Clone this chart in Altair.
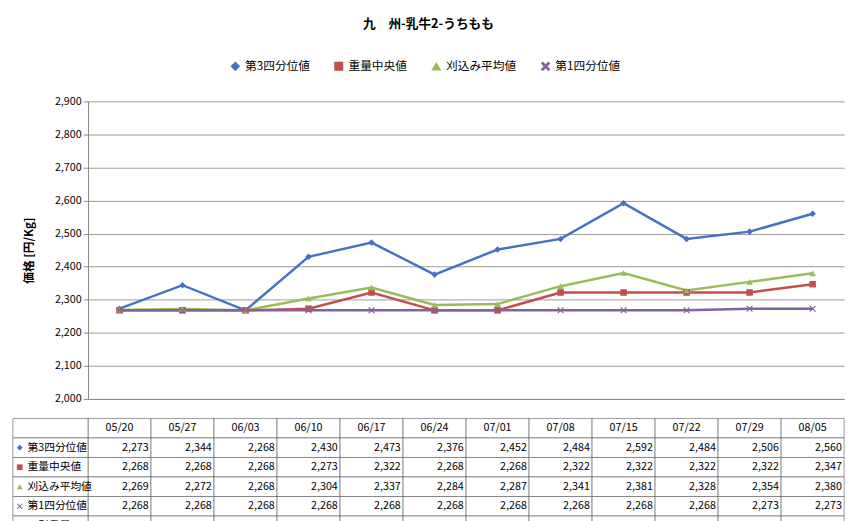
import altair as alt
import pandas as pd

DATES = ["05/20", "05/27", "06/03", "06/10", "06/17", "06/24",
         "07/01", "07/08", "07/15", "07/22", "07/29", "08/05"]
SERIES = ["第3四分位値", "重量中央値", "刈込み平均値", "第1四分位値"]
Q3 = [2273, 2344, 2268, 2430, 2473, 2376, 2452, 2484, 2592, 2484, 2506, 2560]
MEDIAN = [2268, 2268, 2268, 2273, 2322, 2268, 2268, 2322, 2322, 2322, 2322, 2347]
TRIM_AVG = [2269, 2272, 2268, 2304, 2337, 2284, 2287, 2341, 2381, 2328, 2354, 2380]
Q1 = [2268, 2268, 2268, 2268, 2268, 2268, 2268, 2268, 2268, 2268, 2273, 2273]
VOLUME = [1774, 1822, 2317, 2076, 1829, 1632, 1880, 1909, 2143, 1534, 1137, 1442]

COLORS = ["#4472C4", "#C0504D", "#9BBB59", "#8064A2"]
X_PATH = "M-1,-0.75L-0.75,-1L0,-0.25L0.75,-1L1,-0.75L0.25,0L1,0.75L0.75,1L0,0.25L-0.75,1L-1,0.75L-0.25,0Z"
SHAPES = ["diamond", "square", "triangle-up", X_PATH]
FONT = "Noto Sans CJK JP"

values = [Q3, MEDIAN, TRIM_AVG, Q1]
long = pd.DataFrame([
    {"date": d, "series": s, "value": v[i]}
    for s, v in zip(SERIES, values) for i, d in enumerate(DATES)
])

color = alt.Color("series:N", scale=alt.Scale(domain=SERIES, range=COLORS),
                  legend=alt.Legend(orient="none", legendX=145, legendY=-42,
                                    direction="horizontal", title=None,
                                    labelFontSize=12, symbolSize=60, columnPadding=22))
shape = alt.Shape("series:N", scale=alt.Scale(domain=SERIES, range=SHAPES), legend=None)

x_line = alt.X("date:O", sort=DATES, title=None,
               scale=alt.Scale(type="point", padding=0.5),
               axis=alt.Axis(labels=False, ticks=False, domainColor="#888"))
y_line = alt.Y("value:Q", title="価格 [円/Kg]",
               scale=alt.Scale(domain=[2000, 2900]),
               axis=alt.Axis(values=list(range(2000, 2901, 100)), format=",d",
                             titleFontWeight="bold", titleFontSize=12, labelFontSize=11,
                             gridColor="#999", domainColor="#888", tickColor="#888",
                             minExtent=50))

base = alt.Chart(long).encode(x=x_line, y=y_line, color=color)
lines = base.mark_line(strokeWidth=2.5)
points = base.mark_point(filled=True, size=45, opacity=1).encode(shape=shape)
top = alt.layer(lines, points).properties(width=775, height=305)

# table
ROWS = [""] + SERIES + ["取引重量"]
rows_vals = [None, Q3, MEDIAN, TRIM_AVG, Q1, VOLUME]
cells = []
for r, (name, vals) in enumerate(zip(ROWS, rows_vals)):
    for i, d in enumerate(DATES):
        cells.append({"date": d, "row": r,
                      "txt": d if vals is None else f"{vals[i]:,}",
                      "hdr": vals is None})
cells = pd.DataFrame(cells)
labels = pd.DataFrame({"row": list(range(6)), "name": ROWS,
                       "series": [None] + SERIES + [None]})

x_tab = alt.X("date:O", sort=DATES, title=None,
              scale=alt.Scale(type="band", paddingInner=0, paddingOuter=0), axis=None)
y_tab = alt.Y("row:O", axis=None, scale=alt.Scale(domain=list(range(6)),
                                                   paddingInner=0, paddingOuter=0))

rects = alt.Chart(cells).mark_rect(fill="white", stroke="#555", strokeWidth=0.6).encode(x=x_tab, y=y_tab)
txt_h = alt.Chart(cells[cells.hdr]).mark_text(fontSize=11, font=FONT).encode(
    x=x_tab, y=y_tab, text="txt:N")
txt_v = alt.Chart(cells[~cells.hdr]).mark_text(fontSize=11, font=FONT, align="right", dx=30).encode(
    x=x_tab, y=y_tab, text="txt:N")
lab_rect = alt.Chart(labels).mark_rect(fill="white", stroke="#555", strokeWidth=0.6).encode(
    x=alt.value(-77), x2=alt.value(0), y=y_tab)
lab_txt = alt.Chart(labels).mark_text(fontSize=11, font=FONT, align="left").encode(
    x=alt.value(-62), y=y_tab, text="name:N")
lab_pts = alt.Chart(labels[labels.series.notna()]).mark_point(filled=True, size=35, opacity=1).encode(
    x=alt.value(-70), y=y_tab,
    color=alt.Color("series:N", scale=alt.Scale(domain=SERIES, range=COLORS), legend=None),
    shape=shape)
table = alt.layer(rects, lab_rect, txt_h, txt_v, lab_txt, lab_pts).properties(width=775, height=120)

chart = alt.vconcat(top, table, spacing=14).resolve_scale(x="independent", y="independent").properties(
    title=alt.TitleParams("九　州-乳牛2-うちもも", fontSize=13, fontWeight="bold", font=FONT,
                          anchor="middle", offset=30),
    padding={"left": 4, "right": 4, "top": 4, "bottom": 2},
).configure(font=FONT).configure_view(stroke=None).configure_axis(labelFont=FONT, titleFont=FONT)

chart.save("out.html", embed_options={"renderer": "svg", "actions": False})
